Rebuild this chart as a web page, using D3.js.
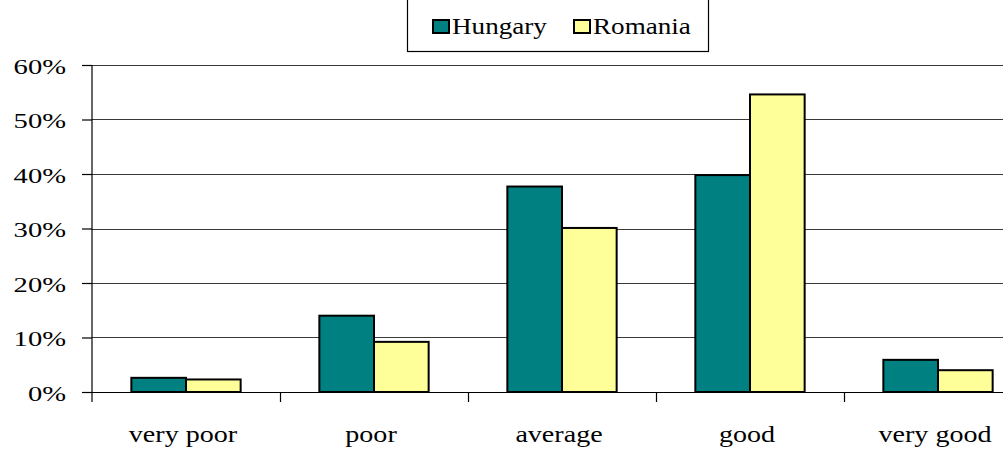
<!DOCTYPE html>
<html>
<head>
<meta charset="utf-8">
<script src="https://cdn.jsdelivr.net/npm/d3@7"></script>
<style>
  html, body { margin: 0; padding: 0; background: #fff; }
  svg { display: block; }
</style>
</head>
<body>
<svg id="chart" width="1003" height="450"></svg>
<script>
// Self-rated condition, share of respondents
const categories = ["very poor", "poor", "average", "good", "very good"];
const seriesNames = ["Hungary", "Romania"];
const hungary = [0.026, 0.14, 0.377, 0.398, 0.059];
const romania = [0.023, 0.092, 0.301, 0.546, 0.040];
const yTicks = [0, 0.1, 0.2, 0.3, 0.4, 0.5, 0.6];
const colors = ["#008080", "#FFFF99"];

const FONT = "'Liberation Serif', 'Times New Roman', Times, serif";
const svg = d3.select("#chart");
const W = 1003;

const x0 = d3.scaleBand().domain(categories).range([92, 1032]).paddingInner(0).paddingOuter(0);
const x1 = d3.scaleBand().domain(seriesNames).range([0, x0.bandwidth()]).paddingInner(0).paddingOuter(0.72);
const y = d3.scaleLinear().domain([0, 0.6]).range([392, 65]);
const color = d3.scaleOrdinal().domain(seriesNames).range(colors);

// horizontal gridlines
svg.append("g").selectAll("line").data(yTicks.filter(d => d > 0)).join("line")
  .attr("x1", 92).attr("x2", W)
  .attr("y1", d => Math.round(y(d)) + 0.5).attr("y2", d => Math.round(y(d)) + 0.5)
  .attr("stroke", "#3a3a3a").attr("stroke-width", 1.2);

// bars
const rows = categories.map((c, i) => ({ cat: c, vals: [hungary[i], romania[i]] }));
svg.append("g").selectAll("g").data(rows).join("g")
  .attr("transform", d => `translate(${x0(d.cat)},0)`)
  .selectAll("rect").data(d => d.vals.map((v, j) => ({ key: seriesNames[j], v })))
  .join("rect")
  .attr("x", d => x1(d.key))
  .attr("width", x1.bandwidth())
  .attr("y", d => y(d.v))
  .attr("height", d => y(0) - y(d.v))
  .attr("fill", d => color(d.key))
  .attr("stroke", "#000").attr("stroke-width", 2);

// y axis
const yAxis = svg.append("g").attr("transform", "translate(92,0)")
  .call(d3.axisLeft(y).tickValues(yTicks).tickFormat(d3.format(".0%")).tickSize(10).tickPadding(0));
yAxis.select(".domain").remove();
yAxis.append("line").attr("x1", 0).attr("x2", 0).attr("y1", 65).attr("y2", 402).attr("stroke", "#000").attr("stroke-width", 1.2);
yAxis.selectAll(".tick line").attr("stroke", "#000").attr("stroke-width", 1.2);
yAxis.selectAll(".tick text").remove();
yAxis.selectAll(".tick").append("text")
  .attr("transform", "translate(-26,8) scale(1.3,1)")
  .attr("text-anchor", "end")
  .attr("fill", "#000")
  .style("font-family", FONT)
  .style("font-size", "22px")
  .text(d => d3.format(".0%")(d));

// x axis baseline and category separators
svg.append("line").attr("x1", 92).attr("x2", W).attr("y1", 392.5).attr("y2", 392.5)
  .attr("stroke", "#000").attr("stroke-width", 1.2);
svg.append("g").selectAll("line").data(categories.slice(1)).join("line")
  .attr("x1", d => x0(d) + 0.5).attr("x2", d => x0(d) + 0.5)
  .attr("y1", 392).attr("y2", 402)
  .attr("stroke", "#000").attr("stroke-width", 1.2);

// category labels
svg.append("g").selectAll("text").data(categories).join("text")
  .attr("transform", d => `translate(${x0(d) + x0.bandwidth() / 2 - 3},442) scale(1.17,1)`)
  .attr("text-anchor", "middle")
  .style("font-family", FONT)
  .style("font-size", "24px")
  .text(d => d);

// legend
const legend = svg.append("g");
legend.append("rect").attr("x", 407.5).attr("y", -10).attr("width", 301).attr("height", 61.5)
  .attr("fill", "#fff").attr("stroke", "#000").attr("stroke-width", 1.2);
const legendX = [433, 574];
seriesNames.forEach((s, i) => {
  const g = legend.append("g").attr("transform", `translate(${legendX[i]},0)`);
  g.append("rect").attr("x", 0).attr("y", 20).attr("width", 16).attr("height", 13)
    .attr("fill", color(s)).attr("stroke", "#000").attr("stroke-width", 2);
  g.append("text").attr("transform", "translate(19,34) scale(1.13,1)")
    .style("font-family", FONT)
    .style("font-size", "24px").text(s);
});
</script>
</body>
</html>
